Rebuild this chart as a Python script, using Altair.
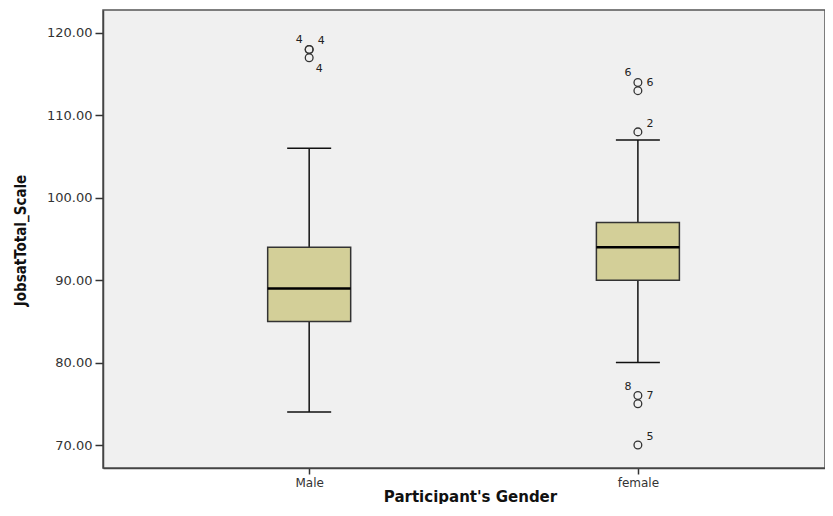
import altair as alt
import pandas as pd

# ---- data ----
groups = ["Male", "female"]
q1 = [85, 90]
median = [89, 94]
q3 = [94, 97]
whisker_low = [74, 80]
whisker_high = [106, 107]

out_group = ["Male", "Male", "Male", "female", "female", "female", "female", "female", "female"]
out_value = [118, 118, 117, 114, 113, 108, 76, 75, 70]
out_label = ["4", "4", "4", "6", "6", "2", "8", "7", "5"]
out_side = ["ul", "ur", "lr", "ul", "ur", "ur", "ul", "ur", "ur"]

y_ticks = [70, 80, 90, 100, 110, 120]

idx = {g: i + 1 for i, g in enumerate(groups)}
box = pd.DataFrame({
    "group": groups,
    "pos": [idx[g] for g in groups],
    "q1": q1, "median": median, "q3": q3,
    "lo": whisker_low, "hi": whisker_high,
})
outl = pd.DataFrame({
    "group": out_group,
    "pos": [idx[g] for g in out_group],
    "value": out_value,
    "label": out_label,
    "side": out_side,
})

W, H = 722, 458
xscale = alt.Scale(domain=[0.388, 2.554], nice=False, zero=False)
yscale = alt.Scale(domain=[67.21, 122.79], nice=False, zero=False)

label_expr = "datum.value == 1 ? 'Male' : (datum.value == 2 ? 'female' : '')"

x_axis = alt.Axis(
    values=[1, 2], labelExpr=label_expr, title="Participant's Gender",
    grid=False, tickSize=6, tickColor="#333", tickWidth=1.5,
    domainColor="#444", domainWidth=1.5,
    labelFont="DejaVu Sans", labelFontSize=12, labelColor="#333", labelPadding=3,
    titleFont="DejaVu Sans", titleFontSize=15, titleFontWeight="bold", titleColor="#111",
    titleX=367, titleY=28, titleBaseline="middle", titleAlign="center",
)
y_axis = alt.Axis(
    values=y_ticks, format=".2f", title="JobsatTotal_Scale",
    grid=False, tickSize=8, tickColor="#333", tickWidth=1.5,
    domainColor="#444", domainWidth=1.5,
    labelFont="DejaVu Sans", labelFontSize=13, labelColor="#333", labelPadding=3,
    titleFont="DejaVu Sans Condensed, Liberation Sans Narrow, sans-serif",
    titleFontSize=15, titleFontWeight="bold", titleColor="#111",
    titleAngle=-90, titleX=-83, titleY=230, titleBaseline="middle", titleAlign="center",
)

base = alt.Chart(box)

whisk_low = base.mark_rule(color="#111", strokeWidth=1.5).encode(
    x=alt.X("pos:Q", scale=xscale, axis=x_axis),
    y=alt.Y("lo:Q", scale=yscale, axis=y_axis),
    y2="q1:Q",
)
whisk_high = base.mark_rule(color="#111", strokeWidth=1.5).encode(
    x=alt.X("pos:Q", scale=xscale), y=alt.Y("q3:Q", scale=yscale), y2="hi:Q"
)
cap_low = base.mark_tick(color="#111", size=44, thickness=1.5, opacity=1, orient="horizontal").encode(
    x=alt.X("pos:Q", scale=xscale), y=alt.Y("lo:Q", scale=yscale)
)
cap_high = base.mark_tick(color="#111", size=44, thickness=1.5, opacity=1, orient="horizontal").encode(
    x=alt.X("pos:Q", scale=xscale), y=alt.Y("hi:Q", scale=yscale)
)
boxes = base.mark_bar(size=83, color="#d3cf98", stroke="#333", strokeWidth=1.5).encode(
    x=alt.X("pos:Q", scale=xscale), y=alt.Y("q1:Q", scale=yscale), y2="q3:Q"
)
med = base.mark_tick(color="#000", size=83, thickness=2.5, opacity=1, orient="horizontal").encode(
    x=alt.X("pos:Q", scale=xscale), y=alt.Y("median:Q", scale=yscale)
)

obase = alt.Chart(outl)
points = obase.mark_point(shape="circle", size=60, filled=False, color="#333",
                          strokeWidth=1.3, opacity=1).encode(
    x=alt.X("pos:Q", scale=xscale), y=alt.Y("value:Q", scale=yscale)
)

def labels(side, dx, dy):
    return obase.transform_filter(alt.datum.side == side).mark_text(
        dx=dx, dy=dy, font="DejaVu Sans", fontSize=11, color="#222"
    ).encode(
        x=alt.X("pos:Q", scale=xscale), y=alt.Y("value:Q", scale=yscale), text="label:N"
    )

lab_ul = labels("ul", -10, -9)
lab_ur = labels("ur", 12, -8)
lab_lr = labels("lr", 10, 11)

chart = alt.layer(
    whisk_low, whisk_high, cap_low, cap_high, boxes, med, points, lab_ul, lab_ur, lab_lr
).properties(
    width=W, height=H,
    autosize=alt.AutoSizeParams(type="none"),
    padding={"left": 95, "top": 2, "right": 0, "bottom": 36},
    background="white",
).configure_view(
    fill="#f0f0f0", stroke="#555", strokeWidth=1.5
)

chart.save("out.html", embed_options={"renderer": "svg", "actions": False})
